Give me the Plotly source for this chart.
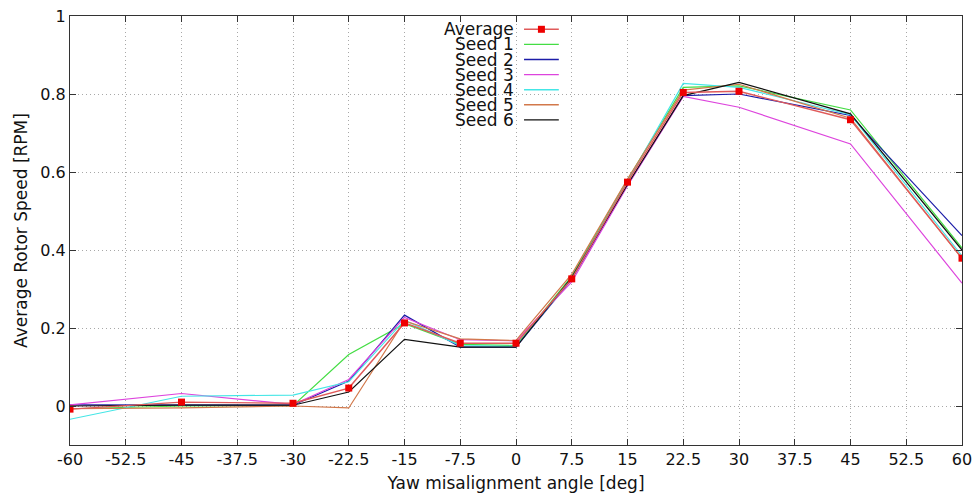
import plotly.graph_objects as go

# yaw misalignment angles [deg]
yaw = [-60, -45, -30, -22.5, -15, -7.5, 0, 7.5, 15, 22.5, 30, 45, 60]

# average rotor speed per seed [RPM]
seed_1 = [-0.007, 0.0, 0.001, 0.132, 0.211, 0.158, 0.155, 0.333, 0.580, 0.817, 0.821, 0.759, 0.405]
seed_2 = [0.003, 0.002, 0.002, 0.064, 0.233, 0.151, 0.151, 0.325, 0.566, 0.796, 0.800, 0.745, 0.437]
seed_3 = [0.003, 0.032, 0.004, 0.068, 0.227, 0.170, 0.167, 0.318, 0.565, 0.794, 0.766, 0.672, 0.315]
seed_4 = [-0.034, 0.025, 0.028, 0.062, 0.220, 0.155, 0.153, 0.328, 0.576, 0.827, 0.817, 0.747, 0.385]
seed_5 = [-0.007, -0.005, 0.0, -0.005, 0.218, 0.172, 0.168, 0.338, 0.582, 0.810, 0.825, 0.738, 0.378]
seed_6 = [0.0, 0.002, 0.002, 0.036, 0.171, 0.151, 0.151, 0.330, 0.568, 0.796, 0.830, 0.749, 0.400]
average = [-0.008, 0.010, 0.007, 0.046, 0.213, 0.161, 0.161, 0.326, 0.574, 0.804, 0.807, 0.734, 0.379]

seed_names = ["Seed 1", "Seed 2", "Seed 3", "Seed 4", "Seed 5", "Seed 6"]
seed_colors = ["#44dd44", "#1c1ca8", "#dd44dd", "#44e6e6", "#d2784a", "#111111"]
avg_line_color = "#e05a5a"
avg_marker_color = "#ee0000"

x_ticks = [-60 + 7.5 * i for i in range(17)]
x_tick_text = ["%g" % v for v in x_ticks]
y_ticks = [0, 0.2, 0.4, 0.6, 0.8, 1]
y_tick_text = ["0", "0.2", "0.4", "0.6", "0.8", "1"]

font = "DejaVu Sans"


def main() -> None:
    fig = go.Figure()

    seeds = [seed_1, seed_2, seed_3, seed_4, seed_5, seed_6]
    for name, color, values in zip(seed_names, seed_colors, seeds):
        fig.add_trace(
            go.Scatter(
                x=yaw,
                y=values,
                mode="lines",
                name=name,
                line=dict(color=color, width=1.2),
                showlegend=False,
            )
        )

    fig.add_trace(
        go.Scatter(
            x=yaw,
            y=average,
            mode="lines+markers",
            name="Average",
            line=dict(color=avg_line_color, width=1.4),
            marker=dict(symbol="square", size=7, color=avg_marker_color),
            showlegend=False,
        )
    )

    # gnuplot style key: labels right aligned, sample line to the right
    key_names = ["Average"] + seed_names
    key_colors = [avg_line_color] + seed_colors
    row_top = 0.969
    row_step = 0.0352
    for i, (name, color) in enumerate(zip(key_names, key_colors)):
        y = row_top - i * row_step
        fig.add_annotation(
            x=0.5, y=y, xref="paper", yref="paper",
            text=name, showarrow=False, xanchor="right", yanchor="middle",
            font=dict(family=font, size=17, color="#111111"),
        )
        fig.add_shape(
            type="line", xref="paper", yref="paper",
            x0=0.509, x1=0.548, y0=y, y1=y,
            line=dict(color=color, width=1.4),
        )
    fig.add_shape(
        type="rect", xref="paper", yref="paper",
        xsizemode="pixel", ysizemode="pixel",
        xanchor=0.5285, yanchor=row_top,
        x0=-3.5, x1=3.5, y0=-3.5, y1=3.5,
        fillcolor=avg_marker_color, line=dict(width=0),
    )

    fig.update_layout(
        width=977,
        height=495,
        margin=dict(l=70, r=15, t=16, b=50),
        paper_bgcolor="white",
        plot_bgcolor="white",
        font=dict(family=font, size=16, color="#111111"),
    )
    axis_style = dict(
        ticks="inside",
        ticklen=6,
        tickcolor="#333333",
        showline=True,
        linecolor="#333333",
        linewidth=1.2,
        mirror="ticks",
        showgrid=True,
        gridcolor="#a8a8a8",
        griddash="1px,3px",
        gridwidth=1,
        zeroline=False,
        automargin=False,
    )
    fig.update_xaxes(
        range=[-60, 60],
        tickvals=x_ticks,
        ticktext=x_tick_text,
        title=dict(text="Yaw misalignment angle [deg]", font=dict(size=17), standoff=8),
        **axis_style,
    )
    fig.update_yaxes(
        range=[-0.1, 1],
        tickvals=y_ticks,
        ticktext=y_tick_text,
        title=dict(text="Average Rotor Speed [RPM]", font=dict(size=17), standoff=8),
        **axis_style,
    )

    # drop the default page margin so the figure fills the window exactly
    fig.write_html(
        "out.html",
        config={"displayModeBar": False},
        post_script="document.body.style.margin = '0';",
    )


if __name__ == "__main__":
    main()
